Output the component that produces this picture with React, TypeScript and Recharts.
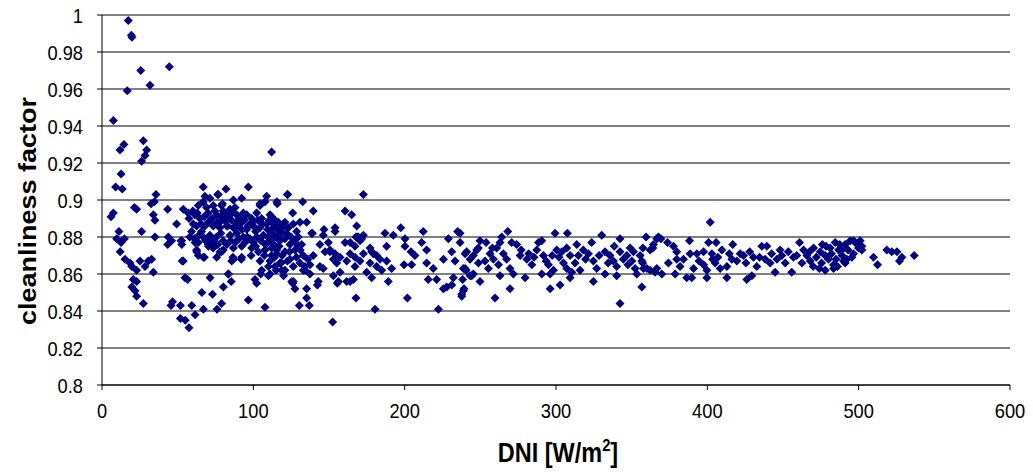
import { CartesianGrid, Label, Scatter, ScatterChart, XAxis, YAxis } from "recharts";

type Pair = [number, number]; // [DNI W/m2, cleanliness factor]

const xTicks = [0, 100, 200, 300, 400, 500, 600];
const yTicks = [0.8, 0.82, 0.84, 0.86, 0.88, 0.9, 0.92, 0.94, 0.96, 0.98, 1];

// DNI below 50
const lowDni: Pair[] = [
  [17.4, 0.997], [19.4, 0.989], [19.8, 0.988], [25.6, 0.97], [44.5, 0.972], [31.7, 0.962], [16.7, 0.959],
  [7.5, 0.943], [27.3, 0.932], [14.5, 0.93], [11.9, 0.927], [29.5, 0.927], [28.4, 0.924], [26.2, 0.921],
  [12.6, 0.914], [9.0, 0.907], [13.4, 0.906], [35.7, 0.903], [32.4, 0.898], [34.6, 0.899], [21.4, 0.896],
  [22.9, 0.895], [43.4, 0.895], [7.5, 0.893], [6.0, 0.891], [33.9, 0.892], [35.0, 0.889], [26.2, 0.883],
  [35.0, 0.88], [43.8, 0.88], [43.4, 0.876], [11.2, 0.883], [9.7, 0.879], [14.8, 0.879], [12.6, 0.877],
  [12.0, 0.872], [15.2, 0.868], [18.5, 0.866], [19.7, 0.864], [22.9, 0.862], [25.1, 0.867], [28.4, 0.864],
  [30.6, 0.867], [32.8, 0.868], [33.9, 0.861], [20.7, 0.857], [22.9, 0.856], [19.7, 0.853], [21.8, 0.851],
  [22.9, 0.848], [27.3, 0.844], [46.6, 0.845], [45.6, 0.843], [49.3, 0.887], [46.0, 0.878],
];

// DNI 50 - 140, the dense cluster
const clusterDni: Pair[] = [
  [51.8, 0.843], [51.8, 0.836], [55.0, 0.835], [57.5, 0.831], [59.3, 0.843], [61.5, 0.838], [66.0, 0.85],
  [67.0, 0.841], [73.0, 0.849], [76.0, 0.841], [79.0, 0.844], [80.2, 0.853], [83.5, 0.86], [85.4, 0.856],
  [52.2, 0.878], [53.0, 0.867], [56.6, 0.857], [52.7, 0.876], [61.5, 0.877], [62.6, 0.872], [63.7, 0.87],
  [67.6, 0.869], [70.3, 0.875], [73.6, 0.877], [78.0, 0.872], [75.8, 0.869], [71.4, 0.858], [85.7, 0.867],
  [96.7, 0.846], [107.7, 0.842], [102.2, 0.855], [104.9, 0.86], [110.0, 0.859], [120.0, 0.859], [125.4, 0.856],
  [66.9, 0.907], [81.9, 0.906], [96.7, 0.907], [76.8, 0.903], [86.8, 0.9], [92.3, 0.901], [108.8, 0.902],
  [68.0, 0.902], [71.3, 0.901], [66.9, 0.899], [63.6, 0.897], [69.1, 0.896], [73.5, 0.897], [53.7, 0.895],
  [57.0, 0.893], [61.4, 0.892], [64.7, 0.89], [60.3, 0.887], [62.5, 0.886], [59.2, 0.883], [65.8, 0.883],
  [68.0, 0.886], [70.2, 0.888], [79.0, 0.897], [80.1, 0.894], [75.7, 0.892], [77.9, 0.888], [82.4, 0.892],
  [84.6, 0.895], [87.9, 0.896], [89.0, 0.892], [85.7, 0.889], [91.2, 0.89], [93.4, 0.893], [95.6, 0.892],
  [98.9, 0.89], [97.8, 0.887], [102.2, 0.893], [104.4, 0.897], [107.7, 0.899], [105.5, 0.89], [111.0, 0.892],
  [114.3, 0.889], [73.5, 0.886], [77.9, 0.885], [82.4, 0.886], [86.8, 0.885], [91.2, 0.887], [95.6, 0.884],
  [100.0, 0.886], [104.4, 0.885], [108.8, 0.887], [113.2, 0.885], [116.5, 0.887], [84.6, 0.881], [89.0, 0.882],
  [93.4, 0.88], [97.8, 0.879], [102.2, 0.88], [106.6, 0.881], [111.0, 0.878], [115.4, 0.88], [75.7, 0.88],
  [71.3, 0.881], [66.9, 0.88], [80.1, 0.878], [52.6, 0.878], [63.6, 0.877], [70.2, 0.876], [73.5, 0.874],
  [80.1, 0.873], [86.8, 0.874], [92.3, 0.875], [98.9, 0.874], [103.3, 0.872], [107.7, 0.873], [112.1, 0.874],
  [115.4, 0.871], [62.5, 0.873], [66.9, 0.869], [79.0, 0.872], [86.8, 0.868], [92.3, 0.869], [104.4, 0.867],
  [111.0, 0.867], [53.7, 0.867], [54.8, 0.858], [83.5, 0.86], [101.1, 0.857], [105.5, 0.862], [111.0, 0.86],
  [122.7, 0.903], [115.5, 0.899], [104.4, 0.898], [79.6, 0.898], [76.5, 0.903], [112.1, 0.926],
  [86.5, 0.869], [92.0, 0.868], [98.5, 0.87], [107.3, 0.87], [114.0, 0.869], [118.4, 0.866], [123.9, 0.872],
  [122.5, 0.903], [115.8, 0.898], [132.6, 0.899], [126.0, 0.893], [139.6, 0.894], [112.1, 0.891], [113.2, 0.887],
  [116.5, 0.888], [120.9, 0.888], [123.1, 0.885], [126.4, 0.887], [128.6, 0.883], [129.7, 0.88], [131.9, 0.876],
  [135.2, 0.888], [130.8, 0.888], [114.3, 0.88], [117.6, 0.878], [120.9, 0.879], [124.2, 0.876], [127.5, 0.873],
  [115.4, 0.873], [120.9, 0.872], [112.1, 0.87], [117.6, 0.866], [124.2, 0.868], [126.4, 0.864], [130.8, 0.866],
  [134.1, 0.864], [120.9, 0.862], [114.3, 0.864], [138.5, 0.882], [118.7, 0.862], [133.0, 0.862], [137.4, 0.86],
  [126.4, 0.856], [127.5, 0.852], [135.2, 0.852], [126.0, 0.855], [135.2, 0.847], [130.4, 0.843], [137.0, 0.843],
  [139.6, 0.87], [134.1, 0.862], [137.4, 0.865], [139.0, 0.882],
  [57.5, 0.89], [60.0, 0.894], [63.0, 0.893], [65.5, 0.887], [67.5, 0.891], [70.0, 0.893], [72.5, 0.89],
  [74.5, 0.894], [76.0, 0.888], [78.5, 0.891], [81.0, 0.889], [83.0, 0.886], [84.0, 0.89], [86.0, 0.893],
  [88.5, 0.888], [90.0, 0.886], [92.5, 0.884], [94.0, 0.889], [96.5, 0.886], [99.5, 0.888], [101.5, 0.883],
  [103.0, 0.889], [106.0, 0.887], [109.5, 0.884], [110.5, 0.889], [112.5, 0.882], [116.0, 0.884], [118.5, 0.882],
  [119.5, 0.885], [122.0, 0.882], [125.0, 0.88], [127.0, 0.878], [129.0, 0.876], [131.0, 0.873], [133.0, 0.87],
  [136.0, 0.868], [58.0, 0.88], [61.0, 0.879], [64.0, 0.881], [68.5, 0.878], [72.0, 0.879], [76.5, 0.876],
  [78.5, 0.882], [82.5, 0.876], [85.0, 0.878], [88.0, 0.877], [90.5, 0.879], [94.5, 0.877], [96.0, 0.88],
  [100.0, 0.877], [101.5, 0.875], [105.0, 0.878], [108.0, 0.876], [109.5, 0.88], [113.5, 0.876], [117.0, 0.875],
  [119.0, 0.87], [122.5, 0.867], [128.5, 0.869], [110.0, 0.864], [115.0, 0.862],
];

// DNI 140 - 300
const midDni: Pair[] = [
  [172.7, 0.903], [146.7, 0.884], [144.0, 0.876], [149.6, 0.877], [147.4, 0.872], [150.7, 0.873], [154.0, 0.871],
  [157.3, 0.869], [155.1, 0.866], [160.6, 0.877], [164.0, 0.877], [167.2, 0.875], [169.4, 0.88], [171.6, 0.879],
  [168.3, 0.886], [163.9, 0.871], [167.2, 0.869], [170.5, 0.867], [172.7, 0.871], [177.1, 0.874], [179.3, 0.871],
  [177.1, 0.866], [181.5, 0.864], [146.2, 0.863], [157.3, 0.861], [161.7, 0.856], [152.9, 0.859], [166.1, 0.857],
  [174.9, 0.861], [178.2, 0.858], [142.9, 0.856], [156.2, 0.856], [163.9, 0.856], [160.6, 0.894], [165.0, 0.892],
  [154.0, 0.885], [154.0, 0.883], [146.2, 0.881], [168.7, 0.88], [170.5, 0.878], [172.7, 0.881], [150.6, 0.872],
  [152.9, 0.868], [161.7, 0.867], [167.2, 0.864], [144.0, 0.864], [178.2, 0.872], [181.5, 0.87], [183.7, 0.868],
  [188.1, 0.867], [187.0, 0.882], [192.5, 0.881], [197.4, 0.885], [188.1, 0.875], [191.4, 0.863], [184.8, 0.862],
  [189.2, 0.856], [200.2, 0.879], [200.2, 0.875], [204.2, 0.872], [206.8, 0.87], [199.6, 0.865], [204.6, 0.865],
  [212.3, 0.883], [211.2, 0.877], [214.5, 0.873], [214.5, 0.866], [218.9, 0.863], [215.6, 0.857], [221.1, 0.857],
  [225.6, 0.868], [228.9, 0.879], [231.1, 0.872], [233.3, 0.867], [235.0, 0.883], [236.6, 0.877], [239.9, 0.871],
  [239.9, 0.863], [238.3, 0.857], [225.6, 0.852], [227.8, 0.853], [231.1, 0.854], [238.8, 0.851], [237.7, 0.848],
  [232.2, 0.858], [243.2, 0.868], [245.4, 0.87], [247.6, 0.873], [245.4, 0.86], [243.2, 0.859], [142.3, 0.854],
  [155.5, 0.855], [167.8, 0.847], [180.4, 0.841], [201.8, 0.847], [222.3, 0.841], [152.4, 0.834], [167.8, 0.88],
  [268.1, 0.883], [299.4, 0.882], [236.6, 0.882], [249.8, 0.878], [253.8, 0.877], [248.7, 0.874], [241.0, 0.872],
  [248.7, 0.866], [238.8, 0.863], [240.6, 0.862], [244.3, 0.859], [264.1, 0.88], [263.0, 0.877], [270.7, 0.877],
  [274.0, 0.876], [260.8, 0.874], [265.2, 0.871], [267.4, 0.868], [269.6, 0.863], [256.4, 0.871], [258.6, 0.868],
  [255.3, 0.863], [253.1, 0.867], [263.0, 0.859], [271.8, 0.86], [279.6, 0.858], [249.8, 0.856], [269.6, 0.852],
  [259.7, 0.847], [239.2, 0.852], [237.7, 0.849], [276.3, 0.87], [280.7, 0.868], [284.0, 0.865], [288.4, 0.877],
  [290.6, 0.878], [287.3, 0.873], [291.7, 0.87], [295.0, 0.865], [298.3, 0.862], [290.6, 0.86], [296.1, 0.86],
  [296.1, 0.852], [258.0, 0.874], [262.0, 0.865], [277.0, 0.873], [282.0, 0.871], [285.5, 0.869], [293.5, 0.867],
  [297.5, 0.87],
];

// DNI above 300
const highDni: Pair[] = [
  [307.5, 0.882], [330.2, 0.881], [342.3, 0.879], [359.5, 0.88], [366.6, 0.879], [300.5, 0.873], [303.8, 0.872],
  [307.1, 0.874], [309.3, 0.87], [304.9, 0.866], [307.1, 0.863], [310.4, 0.861], [309.3, 0.858], [313.7, 0.876],
  [314.8, 0.87], [312.6, 0.866], [315.9, 0.862], [323.6, 0.877], [321.4, 0.871], [324.7, 0.867], [326.9, 0.863],
  [302.7, 0.854], [324.7, 0.856], [356.7, 0.853], [342.3, 0.844], [332.4, 0.872], [335.7, 0.87], [337.9, 0.867],
  [340.1, 0.864], [342.3, 0.872], [344.5, 0.868], [346.8, 0.87], [350.1, 0.867], [351.2, 0.872], [352.3, 0.863],
  [355.6, 0.87], [357.3, 0.866], [353.4, 0.86], [340.1, 0.859], [332.4, 0.86], [362.2, 0.873], [364.4, 0.876],
  [366.6, 0.863], [365.5, 0.861], [360.0, 0.863], [401.9, 0.888], [367.7, 0.88], [369.3, 0.879], [373.7, 0.877],
  [388.2, 0.878], [400.8, 0.877], [405.8, 0.877], [416.8, 0.876], [364.0, 0.874], [357.4, 0.874], [377.6, 0.875],
  [379.8, 0.872], [384.2, 0.868], [388.6, 0.871], [393.1, 0.871], [397.5, 0.872], [403.0, 0.871], [409.6, 0.873],
  [356.7, 0.867], [357.8, 0.863], [362.2, 0.862], [369.9, 0.86], [378.7, 0.86], [386.4, 0.858], [389.7, 0.858],
  [399.7, 0.858], [412.9, 0.858], [426.1, 0.857], [429.4, 0.859], [374.3, 0.866], [379.8, 0.868], [382.0, 0.864],
  [390.9, 0.863], [397.5, 0.865], [399.7, 0.862], [405.2, 0.866], [408.5, 0.863], [412.9, 0.864], [416.2, 0.868],
  [419.5, 0.867], [421.7, 0.871], [423.9, 0.87], [430.5, 0.869], [432.7, 0.864], [436.0, 0.875], [439.3, 0.875],
  [438.2, 0.868], [441.5, 0.866], [444.8, 0.861], [448.1, 0.873], [449.2, 0.87], [455.8, 0.861], [456.9, 0.869],
  [459.1, 0.87], [460.9, 0.877], [463.6, 0.873], [465.8, 0.87], [468.0, 0.867], [470.2, 0.874], [474.6, 0.872],
  [477.9, 0.87], [481.2, 0.874], [483.4, 0.865], [486.7, 0.873], [496.6, 0.878], [499.9, 0.877], [502.1, 0.873],
  [495.5, 0.869], [491.1, 0.866], [483.4, 0.863], [477.9, 0.862], [509.8, 0.869], [512.5, 0.865], [518.6, 0.873],
  [521.9, 0.872], [525.3, 0.872], [528.6, 0.869], [527.0, 0.867], [536.7, 0.87], [501.0, 0.878], [497.7, 0.877],
  [494.4, 0.878], [491.1, 0.876], [488.9, 0.873], [499.9, 0.874], [496.6, 0.871], [492.2, 0.868], [490.0, 0.867],
  [502.1, 0.875], [472.0, 0.869], [475.5, 0.866], [478.5, 0.875], [480.0, 0.868], [482.0, 0.871], [485.0, 0.868],
  [487.5, 0.876], [489.0, 0.87], [484.5, 0.877], [476.0, 0.876], [470.0, 0.864], [474.0, 0.863], [486.0, 0.864],
  [493.0, 0.873], [467.5, 0.872], [302.0, 0.869], [318.0, 0.873], [319.5, 0.868], [328.5, 0.87], [334.5, 0.866],
  [338.5, 0.875], [347.5, 0.865], [349.0, 0.874], [394.5, 0.867], [403.5, 0.868], [407.0, 0.869], [414.5, 0.871],
  [425.5, 0.866], [428.0, 0.872], [434.5, 0.869], [442.5, 0.871], [446.0, 0.868], [451.5, 0.866], [453.5, 0.872],
  [462.5, 0.866],
];

const points = [...lowDni, ...clusterDni, ...midDni, ...highDni].map(([dni, cf]) => ({ dni, cf }));

const FONT = "'Liberation Sans', Arial, sans-serif";
const SQUASH = 0.87; // the reference text is slightly condensed

const Diamond = (props: any) => {
  const { cx, cy } = props;
  const r = 4.5;
  return <polygon points={`${cx},${cy - r} ${cx + r},${cy} ${cx},${cy + r} ${cx - r},${cy}`} fill="#000080" />;
};

const YTick = ({ x, y, payload }: any) => (
  <text transform={`translate(${x},${y}) scale(${SQUASH},1)`} textAnchor="end" dy="0.36em" fontSize={21} fill="#000" fontFamily={FONT}>
    {String(payload.value)}
  </text>
);

const XTick = ({ x, y, payload }: any) => (
  <text transform={`translate(${x},${y}) scale(${SQUASH},1)`} textAnchor="middle" dy="0.71em" fontSize={21} fill="#000" fontFamily={FONT}>
    {payload.value}
  </text>
);

export default function App() {
  return (
    <div style={{ position: "absolute", left: 0, top: 0, background: "#fff" }}>
      <ScatterChart width={1033} height={472} margin={{ top: 15, right: 23, bottom: 0, left: 0 }}>
        <CartesianGrid vertical={false} stroke="#000" strokeWidth={1} />
        <XAxis
          type="number"
          dataKey="dni"
          domain={[0, 600]}
          ticks={xTicks}
          height={87}
          tickSize={5}
          tickMargin={13}
          stroke="#000"
          tick={<XTick />}
        >
          <Label
            content={() => (
              <text transform="translate(558,462) scale(0.87,1)" textAnchor="middle" fontSize={27} fontWeight="bold" fill="#000" fontFamily={FONT}>
                DNI [W/m
                <tspan dy={-11} fontSize={17}>2</tspan>
                <tspan dy={11}>]</tspan>
              </text>
            )}
          />
        </XAxis>
        <YAxis
          type="number"
          dataKey="cf"
          domain={[0.8, 1]}
          ticks={yTicks}
          width={102}
          tickSize={5}
          tickMargin={14}
          stroke="#000"
          tick={<YTick />}
        >
          <Label
            content={() => (
              <text transform="translate(36,211) scale(0.87,1) rotate(-90)" textAnchor="middle" fontSize={27} fontWeight="bold" fill="#000" fontFamily={FONT}>
                cleanliness factor
              </text>
            )}
          />
        </YAxis>
        <Scatter data={points} shape={<Diamond />} isAnimationActive={false} />
      </ScatterChart>
    </div>
  );
}
